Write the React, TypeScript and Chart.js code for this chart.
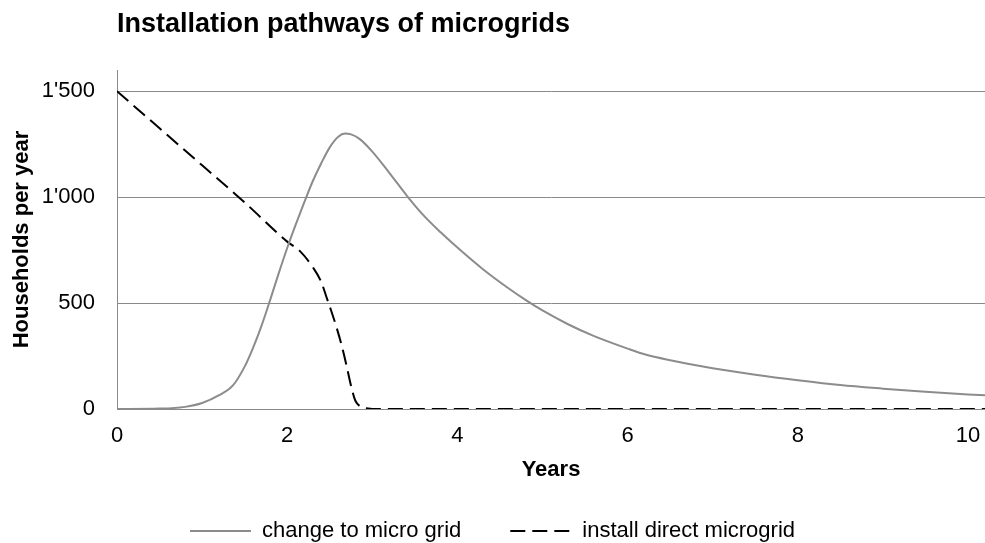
import React, { useEffect, useRef } from "react";
import { Chart, registerables } from "chart.js";

Chart.register(...registerables);

const chartTitle = "Installation pathways of microgrids";
const xAxisTitle = "Years";
const yAxisTitle = "Households per year";
const seriesNames = ["change to micro grid", "install direct microgrid"];

const changeYears = [0, 0.5, 0.8, 1.0, 1.2, 1.36, 1.5, 1.6, 1.7, 1.8, 1.9, 2.0, 2.1, 2.2, 2.3, 2.4, 2.5, 2.6, 2.68, 2.75, 2.85, 3.0, 3.2, 3.4, 3.6, 3.8, 4.0, 4.3, 4.6, 4.8, 5.0, 5.3, 5.6, 6.0, 6.2, 6.5, 7.0, 7.5, 8.0, 8.5, 9.0, 9.5, 10.0, 10.2];
const changeValues = [0, 2, 10, 28, 65, 110, 200, 290, 395, 515, 640, 760, 870, 975, 1075, 1160, 1235, 1285, 1300, 1296, 1275, 1215, 1115, 1010, 915, 835, 762, 660, 570, 515, 465, 400, 345, 285, 258, 230, 192, 162, 136, 113, 96, 81, 69, 65];

const directYears = [0, 0.5, 1.0, 1.5, 2.0, 2.15, 2.3, 2.4, 2.46, 2.52, 2.58, 2.64, 2.7, 2.75, 2.8, 2.87, 2.95, 3.0, 10.2];
const directValues = [1500, 1325, 1150, 975, 790, 745, 670, 600, 530, 460, 385, 300, 200, 110, 40, 10, 2, 0, 0];

const xTickValues = [0, 2, 4, 6, 8, 10];
const xTickLabels = ["0", "2", "4", "6", "8", "10"];
const yTickValues = [0, 500, 1000, 1500];
const yTickLabels = ["0", "500", "1'000", "1'500"];
const xMin = 0;
const xMax = 10.2;
const yMin = 0;
const yMax = 1600;

const FONT = '"Liberation Sans", Arial, sans-serif';

export default function App() {
  const ref = useRef<HTMLCanvasElement | null>(null);

  useEffect(() => {
    if (!ref.current) return;
    const changePts = changeYears.map((x, i) => ({ x, y: changeValues[i] }));
    const directPts = directYears.map((x, i) => ({ x, y: directValues[i] }));
    const gridGray = "#8a8a8a";

    const chart = new Chart(ref.current, {
      type: "line",
      data: {
        datasets: [
          {
            label: seriesNames[0],
            data: changePts,
            borderColor: "#8c8c8c",
            backgroundColor: "#8c8c8c",
            borderWidth: 2,
            pointRadius: 0,
            pointStyle: "line",
            cubicInterpolationMode: "monotone",
            fill: false,
          },
          {
            label: seriesNames[1],
            data: directPts,
            borderColor: "#000000",
            backgroundColor: "#000000",
            borderWidth: 2,
            borderDash: [15, 7],
            pointRadius: 0,
            pointStyle: "line",
            cubicInterpolationMode: "monotone",
            fill: false,
          },
        ],
      },
      options: {
        responsive: false,
        animation: false,
        devicePixelRatio: 1,
        layout: { padding: 0 },
        font: { family: FONT },
        plugins: {
          tooltip: { enabled: false },
          title: {
            display: true,
            text: chartTitle,
            align: "start",
            fullSize: false,
            color: "#000",
            font: { family: FONT, size: 27, weight: "bold" },
            padding: { top: 8.4, bottom: 29.2 },
          },
          legend: {
            display: true,
            position: "bottom",
            labels: {
              usePointStyle: true,
              pointStyleWidth: 61,
              padding: 49,
              color: "#000",
              font: { family: FONT, size: 22 },
              generateLabels: (c: any) =>
                c.data.datasets.map((ds: any, i: number) => ({
                  text: ds.label,
                  fillStyle: "rgba(0,0,0,0)",
                  strokeStyle: ds.borderColor,
                  lineWidth: ds.borderWidth,
                  lineDash: ds.borderDash || [],
                  lineCap: "butt",
                  pointStyle: "line",
                  hidden: false,
                  datasetIndex: i,
                  fontColor: "#000",
                })),
            },
          },
        },
        scales: {
          x: {
            type: "linear",
            min: xMin,
            max: xMax,
            afterFit: (s: any) => {
              s.height = 62;
              s.paddingLeft = 0;
              s.paddingRight = 0;
            },
            afterBuildTicks: (s: any) => {
              s.ticks = xTickValues.map((v) => ({ value: v }));
            },
            grid: { display: false, drawTicks: false },
            border: { display: true, color: gridGray, width: 1 },
            ticks: {
              color: "#000",
              padding: 14,
              maxRotation: 0,
              autoSkip: false,
              font: { family: FONT, size: 22 },
              callback: (v: any) => xTickLabels[xTickValues.indexOf(Number(v))],
            },
            title: {
              display: true,
              text: xAxisTitle,
              color: "#000",
              font: { family: FONT, size: 22, weight: "bold" },
              padding: { top: 0, bottom: -12.2 },
            },
          },
          y: {
            type: "linear",
            min: yMin,
            max: yMax,
            afterFit: (s: any) => {
              s.width = 117;
              s.paddingTop = 0;
              s.paddingBottom = 0;
            },
            afterBuildTicks: (s: any) => {
              s.ticks = yTickValues.map((v) => ({ value: v }));
            },
            grid: { display: true, drawTicks: false, color: gridGray, lineWidth: 1 },
            border: { display: true, color: gridGray, width: 1 },
            ticks: {
              color: "#000",
              padding: 22,
              autoSkip: false,
              font: { family: FONT, size: 22 },
              callback: (v: any) => yTickLabels[yTickValues.indexOf(Number(v))],
            },
            title: {
              display: true,
              text: yAxisTitle,
              color: "#000",
              font: { family: FONT, size: 22, weight: "bold" },
              padding: { top: 8.6, bottom: 0 },
            },
          },
        },
      },
    });
    return () => chart.destroy();
  }, []);

  return (
    <div
      style={{
        position: "fixed",
        left: 0,
        top: 0,
        width: 985,
        height: 543,
        overflow: "hidden",
        background: "#fff",
      }}
    >
      <canvas
        ref={ref}
        width={985}
        height={552}
        style={{ display: "block", width: 985, height: 552 }}
      />
    </div>
  );
}
